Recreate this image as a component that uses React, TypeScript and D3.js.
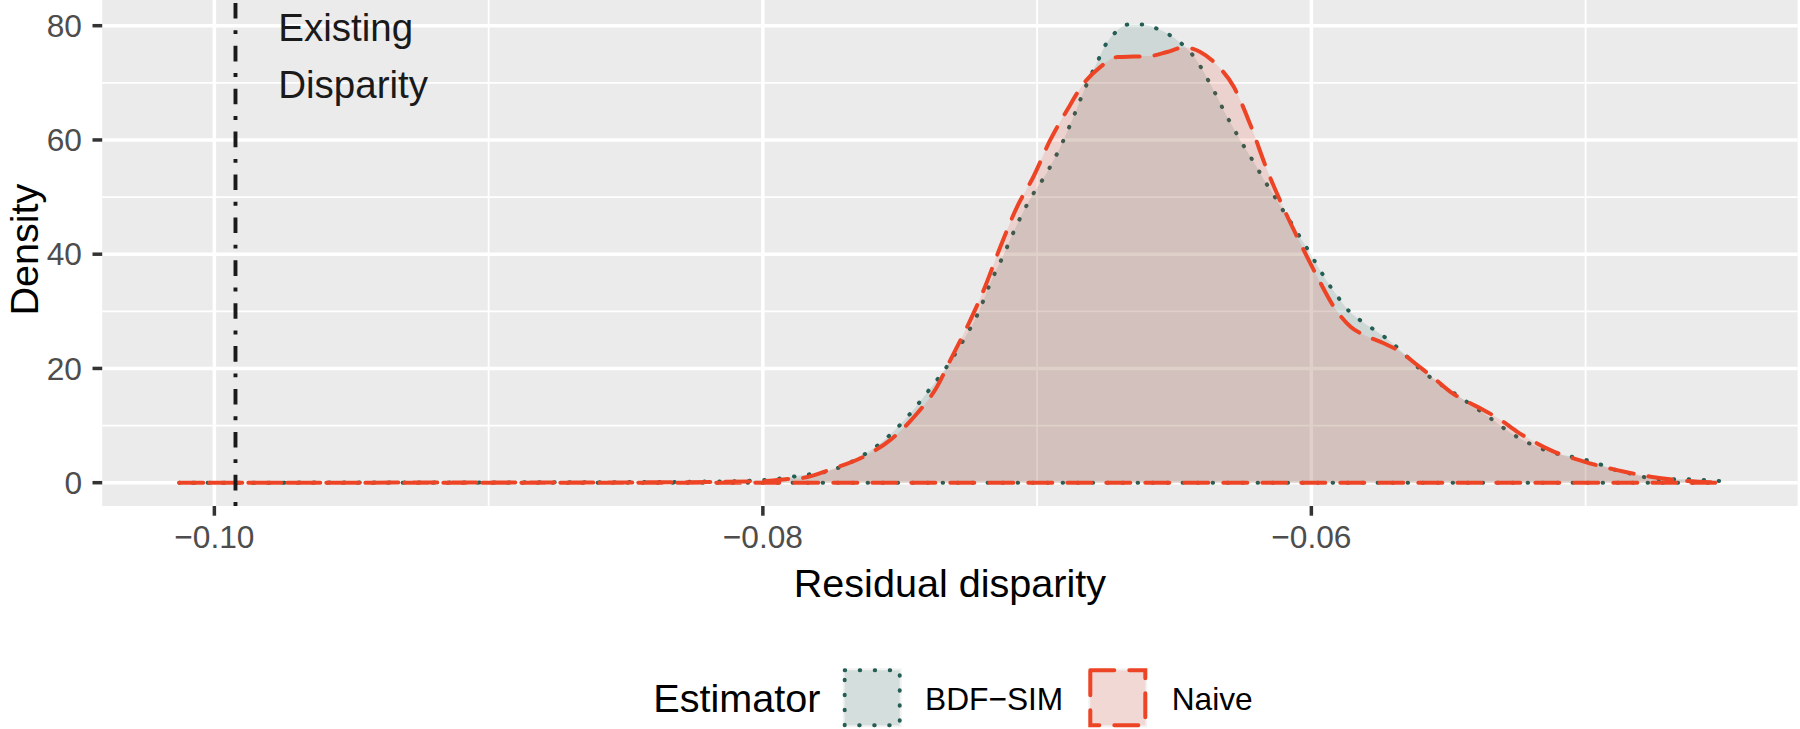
import React from "react";
import * as d3 from "d3";

// ---------- data ----------
const seriesNames = ["BDF\u2212SIM", "Naive"];

const bdfX = [-0.10128, -0.095, -0.09, -0.085, -0.082, -0.0805, -0.07961, -0.07864, -0.07742, -0.07638, -0.07547, -0.07468, -0.07396, -0.07328, -0.07268, -0.07213, -0.07171, -0.07122, -0.07077, -0.07025, -0.06964, -0.06912, -0.06867, -0.06824, -0.06776, -0.06751, -0.06715, -0.06668, -0.06614, -0.06559, -0.06508, -0.06463, -0.06425, -0.06395, -0.06368, -0.06341, -0.06316, -0.06288, -0.06261, -0.06232, -0.06201, -0.06174, -0.06143, -0.06113, -0.06082, -0.06052, -0.06022, -0.05993, -0.05963, -0.05933, -0.059, -0.05864, -0.05821, -0.05775, -0.05727, -0.05683, -0.05602, -0.05462, -0.05371, -0.05322, -0.05276, -0.05227, -0.05176, -0.05122, -0.05067, -0.0501, -0.04958, -0.04903, -0.04848, -0.04793, -0.04739, -0.0468, -0.04623, -0.04566, -0.0451];
const bdfY = [0, 0.02, 0.05, 0.1, 0.2, 0.35, 0.6, 1.25, 2.3, 4.7, 7.9, 11.8, 16.1, 20.4, 25.0, 29.9, 34.9, 39.9, 44.8, 49.7, 54.3, 59.1, 64.1, 69.2, 74.1, 76.6, 78.8, 80.2, 80.2, 79.4, 78.1, 76.4, 74.4, 72.1, 69.7, 67.3, 64.8, 62.4, 60.1, 57.8, 55.4, 53.1, 50.8, 48.4, 46.1, 43.8, 41.5, 39.2, 36.8, 34.5, 32.3, 30.1, 28.4, 26.9, 25.3, 23.5, 19.8, 15.1, 12.1, 10.4, 8.8, 7.4, 6.25, 5.3, 4.7, 4.1, 3.4, 2.4, 1.75, 1.05, 0.6, 0.6, 0.6, 0.47, 0.3];

const naiveX = [-0.10128, -0.095, -0.09, -0.085, -0.082, -0.08, -0.0791, -0.07864, -0.07742, -0.07633, -0.07535, -0.07438, -0.07365, -0.07316, -0.07255, -0.07195, -0.07134, -0.07073, -0.07013, -0.06952, -0.06891, -0.0683, -0.06769, -0.06708, -0.06648, -0.06587, -0.06526, -0.06465, -0.06405, -0.06344, -0.06283, -0.06222, -0.06161, -0.06101, -0.0604, -0.05979, -0.05918, -0.05857, -0.05796, -0.05736, -0.05675, -0.05614, -0.05553, -0.05493, -0.05432, -0.05371, -0.0531, -0.05249, -0.05189, -0.05128, -0.05006, -0.04885, -0.04763, -0.04642, -0.04508];
const naiveY = [0, 0.01, 0.02, 0.05, 0.12, 0.25, 0.65, 0.77, 2.5, 4.55, 7.5, 12.1, 16.8, 21.5, 27.3, 33.7, 41.3, 48.3, 53.6, 60.0, 65.2, 69.9, 72.8, 74.5, 74.6, 74.7, 75.4, 76.2, 75.4, 73.1, 69.3, 62.6, 54.7, 48.0, 41.9, 36.1, 30.8, 27.3, 25.6, 24.4, 22.9, 20.6, 18.3, 15.9, 14.2, 12.7, 11.0, 8.9, 7.2, 5.7, 3.7, 2.2, 1.05, 0.35, 0.05];

const xBreaks = [-0.1, -0.08, -0.06];
const xTickLabels = ["\u22120.10", "\u22120.08", "\u22120.06"];
const xMinorBreaks = [-0.09, -0.07, -0.05];
const yBreaks = [0, 20, 40, 60, 80];
const yTickLabels = ["0", "20", "40", "60", "80"];
const yMinorBreaks = [10, 30, 50, 70];
const densityMax = 81.6;

const existingDisparity = -0.09923;
const annotationX = -0.09767;
const annotationLines = ["Existing", "Disparity"];
const annotationY = [77.4, 67.4];

const FONT = "'Liberation Sans', Arial, Helvetica, sans-serif";
const COLORS = {
  bdfLine: "#245E54",
  bdfFill: "#2A6B60",
  naiveLine: "#EE4426",
  naiveFill: "#EE4426",
};

export default function App() {
  const W = 1800;
  const H = 729;
  const panel = { left: 102.2, right: 1797.6, top: -6.75, bottom: 506 };

  const allX = [...bdfX, ...naiveX];
  const xMin = d3.min(allX) as number;
  const xMax = d3.max(allX) as number;
  const pad = (xMax - xMin) * 0.05;
  const x = d3.scaleLinear().domain([xMin - pad, xMax + pad]).range([panel.left, panel.right]);
  const y = d3.scaleLinear().domain([-0.05 * densityMax, 1.05 * densityMax]).range([panel.bottom, panel.top]);

  const area = d3
    .area<[number, number]>()
    .x((d) => x(d[0]))
    .y0(y(0))
    .y1((d) => y(d[1]))
    .curve(d3.curveMonotoneX);

  const bdfPts: [number, number][] = bdfX.map((v, i) => [v, bdfY[i]]);
  const naivePts: [number, number][] = naiveX.map((v, i) => [v, naiveY[i]]);

  const series = [
    { name: seriesNames[0], pts: bdfPts, line: COLORS.bdfLine, fill: COLORS.bdfFill, dash: "0.5 14.5", cap: "round" as const },
    { name: seriesNames[1], pts: naivePts, line: COLORS.naiveLine, fill: COLORS.naiveFill, dash: "24 15", cap: "round" as const },
  ];

  const tickFont = 31.7;
  const titleFont = 39.6;

  // legend layout
  const legendY = 670.3;
  const keySize = 55;
  const keysX = [844.7, 1090.3];
  const labelsX = [925, 1171.7];

  return (
    <div style={{ position: "absolute", left: 0, top: 0 }}>
      <svg width={W} height={H} viewBox={`0 0 ${W} ${H}`} style={{ display: "block", fontFamily: FONT }}>
        <rect x={0} y={0} width={W} height={H} fill="#FFFFFF" />
        {/* panel */}
        <rect x={panel.left} y={panel.top} width={panel.right - panel.left} height={panel.bottom - panel.top} fill="#EBEBEB" />
        {yMinorBreaks.map((v) => (
          <line key={"ym" + v} x1={panel.left} x2={panel.right} y1={y(v)} y2={y(v)} stroke="#FFFFFF" strokeWidth={1.8} />
        ))}
        {xMinorBreaks.map((v) => (
          <line key={"xm" + v} x1={x(v)} x2={x(v)} y1={panel.top} y2={panel.bottom} stroke="#FFFFFF" strokeWidth={1.8} />
        ))}
        {yBreaks.map((v) => (
          <line key={"yM" + v} x1={panel.left} x2={panel.right} y1={y(v)} y2={y(v)} stroke="#FFFFFF" strokeWidth={3.5} />
        ))}
        {xBreaks.map((v) => (
          <line key={"xM" + v} x1={x(v)} x2={x(v)} y1={panel.top} y2={panel.bottom} stroke="#FFFFFF" strokeWidth={3.5} />
        ))}

        {/* densities */}
        {series.map((s) => (
          <path
            key={s.name}
            d={area(s.pts) || ""}
            fill={s.fill}
            fillOpacity={0.15}
            stroke={s.line}
            strokeWidth={4}
            strokeDasharray={s.dash}
            strokeLinecap={s.cap}
            strokeLinejoin="round"
          />
        ))}

        {/* existing disparity line */}
        <line
          x1={x(existingDisparity)}
          x2={x(existingDisparity)}
          y1={panel.bottom}
          y2={panel.top}
          stroke="#1A1A1A"
          strokeWidth={3.9}
          strokeDasharray="3.9 11.7 15.6 11.7"
        />
        {annotationLines.map((t, i) => (
          <text key={t} x={x(annotationX)} y={y(annotationY[i])} fontSize={38.5} fill="#1A1A1A">
            {t}
          </text>
        ))}

        {/* y axis */}
        {yBreaks.map((v, i) => (
          <g key={"yt" + v}>
            <line x1={panel.left - 9.7} x2={panel.left} y1={y(v)} y2={y(v)} stroke="#333333" strokeWidth={3.5} />
            <text x={82} y={y(v) + 11.3} textAnchor="end" fontSize={tickFont} fill="#4D4D4D">
              {yTickLabels[i]}
            </text>
          </g>
        ))}
        {/* x axis */}
        {xBreaks.map((v, i) => (
          <g key={"xt" + v}>
            <line x1={x(v)} x2={x(v)} y1={panel.bottom} y2={panel.bottom + 9.7} stroke="#333333" strokeWidth={3.5} />
            <text x={x(v)} y={548.3} textAnchor="middle" fontSize={tickFont} fill="#4D4D4D">
              {xTickLabels[i]}
            </text>
          </g>
        ))}

        {/* axis titles */}
        <text x={(panel.left + panel.right) / 2} y={596.7} textAnchor="middle" fontSize={titleFont} fill="#000000">
          Residual disparity
        </text>
        <text
          transform={`translate(37.5, ${(panel.top + panel.bottom) / 2}) rotate(-90)`}
          textAnchor="middle"
          fontSize={titleFont}
          fill="#000000"
        >
          Density
        </text>

        {/* legend */}
        <text x={653.3} y={711.7} fontSize={titleFont} fill="#000000">
          Estimator
        </text>
        {series.map((s, i) => (
          <g key={"lg" + s.name}>
            <rect x={keysX[i] - 2} y={legendY - 2} width={keySize + 4} height={keySize + 4} fill="#F2F2F2" />
            <rect
              x={keysX[i]}
              y={legendY}
              width={keySize}
              height={keySize}
              fill={s.fill}
              fillOpacity={0.15}
              stroke={s.line}
              strokeWidth={4}
              strokeDasharray={s.dash}
              strokeLinecap={s.cap}
            />
            <text x={labelsX[i]} y={710} fontSize={tickFont} fill="#000000">
              {s.name}
            </text>
          </g>
        ))}
      </svg>
    </div>
  );
}
